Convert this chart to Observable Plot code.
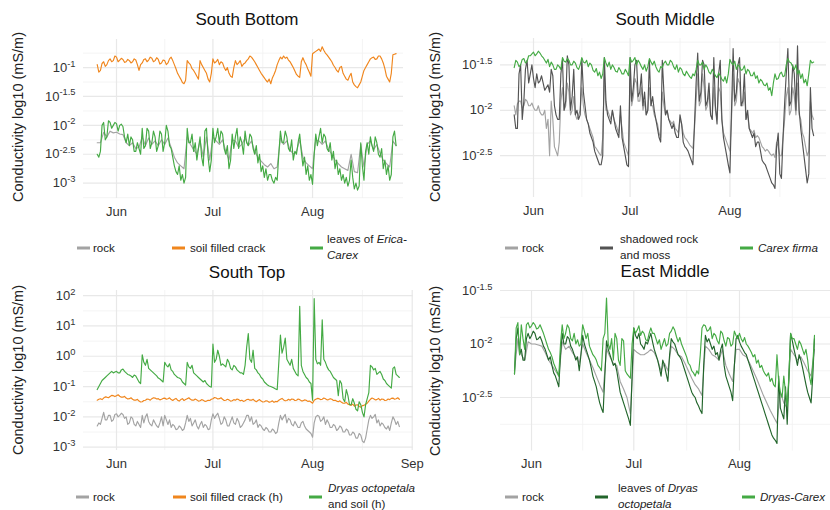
<!DOCTYPE html>
<html><head><meta charset="utf-8">
<script src="https://cdn.jsdelivr.net/npm/d3@7"></script>
<script src="https://cdn.jsdelivr.net/npm/@observablehq/plot@0.6"></script>
<style>
body{margin:0;background:#fff;font-family:"Liberation Sans",Arial,Helvetica,sans-serif;}
#root{position:relative;width:830px;height:510px;overflow:hidden;background:#fff;}
.plotbox{position:absolute;width:415px;height:255px;}
.plotbox svg{overflow:visible;background:transparent;}
.title{position:absolute;font-size:17px;color:#111;transform:translate(-50%,-50%);white-space:nowrap;}
.ylab{position:absolute;font-size:14.5px;color:#222;transform:translate(-50%,-50%) rotate(-90deg);white-space:nowrap;}
.sw{position:absolute;width:13px;height:3px;transform:translateY(-50%);}
.lt{position:absolute;font-size:11.6px;line-height:15.5px;color:#222;transform:translateY(-50%);white-space:nowrap;}
</style></head>
<body><div id="root"></div>
<script>
// ---- data: log10 conductivity (mS/m); day index 0 = 26 May ----
// each series: start day, sampling step (days), values

// South Bottom
const sbRockStart = 0, sbRockStep = 1;
const sbRock = [-2.3,-2.3,-2.12,-2.2,-2.1,-2.13,-2.12,-2.15,-2.16,-2.3,-2.35,-2.3,-2.4,-2.38,-2.2,-2.35,-2.22,-2.33,-2.27,-2.35,-2.25,-2.33,-2.22,-2.38,-2.55,-2.65,-2.7,-2.75,-2.2,-2.33,-2.42,-2.5,-2.27,-2.55,-2.2,-2.6,-2.2,-2.27,-2.33,-2.25,-2.45,-2.6,-2.25,-2.27,-2.38,-2.33,-2.22,-2.35,-2.27,-2.45,-2.55,-2.62,-2.68,-2.72,-2.66,-2.75,-2.72,-2.22,-2.33,-2.27,-2.42,-2.5,-2.45,-2.25,-2.55,-2.65,-2.7,-2.75,-2.25,-2.27,-2.33,-2.27,-2.42,-2.5,-2.6,-2.66,-2.72,-2.75,-2.78,-2.5,-2.8,-2.82,-2.33,-2.72,-2.33,-2.27,-2.42,-2.33,-2.48,-2.6,-2.66,-2.72,-2.27,-2.35];
const sbSoilStart = 0, sbSoilStep = 0.5;
const sbSoil = [-0.95,-1.08,-1.05,-0.93,-0.9,-0.98,-0.95,-0.88,-0.85,-0.9,-0.88,-0.8,-0.82,-0.9,-0.87,-0.84,-0.86,-0.91,-0.9,-0.86,-0.88,-0.92,-0.9,-0.85,-0.87,-0.95,-1.05,-0.95,-0.92,-0.86,-0.85,-0.9,-0.87,-0.82,-0.84,-0.9,-0.88,-0.83,-0.86,-0.94,-0.92,-0.87,-0.88,-0.95,-0.92,-0.85,-0.82,-0.88,-0.95,-1.02,-1.1,-1.15,-1.2,-1.26,-1.28,-1.22,-0.88,-0.92,-0.95,-1.02,-1.05,-1.1,-1.15,-1.2,-0.88,-0.95,-1.0,-1.05,-1.1,-1.2,-1.25,-1.1,-0.85,-0.92,-0.9,-0.86,-0.95,-0.9,-0.92,-1.0,-1.05,-1.0,-1.1,-1.15,-1.17,-1.0,-0.88,-0.95,-0.92,-0.88,-0.98,-0.94,-0.92,-0.88,-0.85,-0.8,-0.82,-0.86,-0.9,-0.95,-1.0,-1.05,-1.1,-1.14,-1.18,-1.22,-1.25,-1.2,-1.28,-1.18,-1.12,-1.05,-0.95,-0.88,-0.82,-0.85,-0.8,-0.84,-0.82,-0.87,-0.9,-0.95,-1.0,-1.06,-1.12,-1.15,-1.17,-0.9,-0.83,-0.9,-0.95,-1.02,-1.08,-1.15,-0.76,-0.74,-0.72,-0.7,-0.68,-0.72,-0.64,-0.7,-0.75,-0.78,-0.82,-0.86,-0.9,-0.96,-1.0,-1.05,-1.08,-1.0,-0.98,-1.1,-1.15,-1.2,-1.22,-1.15,-1.1,-1.25,-1.3,-1.33,-1.35,-1.3,-1.25,-1.15,-1.05,-1.0,-0.95,-0.9,-0.85,-0.83,-0.82,-0.86,-0.85,-0.8,-0.8,-0.85,-0.92,-1.02,-1.15,-1.2,-1.25,-1.1,-0.78,-0.77,-0.76];
const sbLeavesStart = 0, sbLeavesStep = 0.5;
const sbLeaves = [-2.5,-2.55,-2.45,-2.0,-1.95,-2.25,-2.2,-1.92,-1.95,-2.05,-2.0,-1.95,-1.97,-2.1,-2.0,-1.98,-2.02,-2.2,-2.3,-2.15,-2.35,-2.2,-2.25,-2.45,-2.45,-2.3,-2.4,-2.5,-2.05,-2.4,-2.35,-2.05,-2.1,-2.4,-2.3,-2.1,-2.2,-2.45,-2.35,-2.1,-2.15,-2.45,-2.3,-2.0,-2.1,-2.35,-2.4,-2.55,-2.7,-2.8,-2.85,-2.7,-2.95,-2.85,-3.0,-2.9,-2.05,-2.3,-2.3,-2.15,-2.45,-2.3,-2.6,-2.4,-2.2,-2.55,-2.7,-2.1,-2.05,-2.55,-2.8,-2.6,-2.05,-2.3,-2.2,-2.05,-2.3,-2.1,-2.15,-2.4,-2.5,-2.35,-2.75,-2.6,-2.15,-2.4,-2.2,-2.05,-2.4,-2.2,-2.3,-2.5,-2.1,-2.3,-2.35,-2.15,-2.2,-2.4,-2.5,-2.35,-2.65,-2.5,-2.8,-2.7,-2.9,-2.75,-2.95,-2.85,-2.85,-2.95,-3.0,-2.9,-2.95,-2.5,-2.1,-2.3,-2.3,-2.1,-2.2,-2.4,-2.45,-2.25,-2.6,-2.45,-2.5,-2.3,-2.15,-2.45,-2.7,-2.55,-2.85,-2.7,-2.95,-2.85,-3.02,-2.5,-2.15,-2.35,-2.2,-2.05,-2.3,-2.15,-2.2,-2.4,-2.45,-2.3,-2.6,-2.45,-2.75,-2.6,-2.85,-2.75,-2.95,-2.85,-3.0,-2.9,-3.05,-2.95,-2.6,-2.9,-3.1,-3.0,-3.12,-3.05,-2.3,-2.7,-2.95,-2.45,-2.3,-2.5,-2.2,-2.35,-2.45,-2.2,-2.3,-2.5,-2.55,-2.4,-2.75,-2.6,-2.85,-2.7,-2.95,-2.85,-2.2,-2.1,-2.35];

// South Middle
const smRockStart = 0, smRockStep = 0.5;
const smRock = [-1.95,-2.05,-1.93,-1.9,-1.9,-1.98,-1.95,-1.88,-1.9,-1.95,-1.95,-1.92,-1.97,-2.0,-2.0,-1.95,-2.02,-2.05,-2.05,-2.0,-2.2,-2.1,-2.5,-1.9,-2.1,-2.4,-2.45,-2.5,-2.35,-1.9,-1.75,-2.0,-1.95,-1.7,-1.8,-2.05,-2.0,-1.85,-2.05,-2.1,-2.05,-2.0,-1.75,-1.95,-2.05,-2.1,-2.15,-2.2,-2.25,-2.3,-2.4,-2.42,-2.45,-2.48,-2.5,-2.3,-1.6,-2.0,-2.0,-2.05,-2.1,-2.0,-2.1,-2.15,-2.2,-2.25,-2.05,-2.2,-2.35,-2.4,-2.45,-2.5,-1.65,-1.95,-1.85,-1.65,-1.7,-1.9,-1.9,-1.75,-2.0,-1.9,-2.05,-2.0,-1.75,-1.95,-1.95,-2.05,-2.1,-2.15,-2.25,-2.3,-1.8,-1.95,-2.05,-2.0,-2.1,-2.12,-2.15,-2.12,-2.2,-2.22,-2.25,-2.1,-2.15,-2.25,-2.3,-2.32,-2.35,-2.38,-2.4,-2.42,-2.2,-1.9,-1.6,-1.95,-1.9,-1.6,-1.75,-2.0,-1.95,-1.8,-2.05,-2.1,-1.75,-2.0,-2.1,-1.75,-1.8,-2.1,-2.25,-2.3,-2.35,-2.4,-2.45,-2.1,-1.6,-1.95,-1.9,-1.65,-1.7,-1.95,-1.95,-1.8,-2.1,-2.05,-2.2,-2.22,-2.25,-2.22,-2.3,-2.28,-2.3,-2.35,-2.4,-2.42,-2.45,-2.43,-2.45,-2.48,-2.5,-2.48,-2.52,-2.35,-2.4,-2.5,-2.5,-2.3,-2.1,-1.85,-1.75,-2.05,-2.0,-1.75,-1.85,-2.05,-1.7,-2.05,-2.1,-2.25,-2.3,-2.4,-2.5,-2.45,-1.9,-2.05,-2.1];
const smShadowStart = 0, smShadowStep = 0.5;
const smShadow = [-2.05,-2.2,-2.2,-1.6,-1.5,-2.1,-1.9,-1.55,-1.45,-1.7,-1.6,-1.5,-1.65,-1.75,-1.6,-1.7,-1.68,-1.62,-1.7,-1.78,-1.75,-1.72,-1.8,-1.55,-1.62,-1.95,-2.05,-2.1,-2.1,-1.6,-1.45,-2.0,-1.9,-1.4,-1.5,-2.0,-1.85,-1.55,-2.05,-2.0,-2.1,-2.05,-1.43,-1.8,-1.95,-2.1,-2.15,-2.25,-2.3,-2.35,-2.45,-2.5,-2.55,-2.6,-2.6,-2.5,-1.42,-1.9,-2.05,-2.1,-2.15,-2.0,-2.1,-2.2,-2.25,-2.3,-1.95,-2.3,-2.4,-2.5,-2.6,-2.62,-1.42,-1.9,-1.75,-1.5,-1.45,-1.85,-1.8,-1.6,-1.95,-1.8,-2.05,-2.0,-1.45,-1.95,-1.85,-2.0,-2.1,-2.2,-2.3,-2.35,-1.45,-1.8,-2.05,-2.0,-2.1,-2.15,-2.2,-2.15,-2.25,-2.3,-2.3,-2.05,-2.15,-2.35,-2.4,-2.42,-2.45,-2.5,-2.55,-2.6,-2.15,-1.7,-1.37,-1.9,-1.8,-1.45,-1.5,-1.95,-1.9,-1.7,-2.05,-2.1,-1.42,-1.95,-2.15,-1.6,-1.45,-2.1,-2.3,-2.4,-2.5,-2.6,-2.69,-2.0,-1.32,-1.9,-1.8,-1.5,-1.42,-1.95,-1.9,-1.6,-2.1,-2.0,-2.2,-2.25,-2.3,-2.25,-2.4,-2.35,-2.35,-2.45,-2.55,-2.58,-2.6,-2.65,-2.7,-2.75,-2.8,-2.82,-2.86,-2.4,-2.25,-2.7,-2.75,-2.3,-1.92,-1.6,-1.32,-1.95,-1.9,-1.5,-1.6,-2.0,-1.29,-2.0,-2.2,-2.35,-2.5,-2.65,-2.8,-2.7,-1.75,-2.2,-2.28];
const smCarexStart = 0, smCarexStep = 0.5;
const smCarex = [-1.53,-1.45,-1.47,-1.52,-1.5,-1.44,-1.43,-1.48,-1.46,-1.4,-1.4,-1.38,-1.36,-1.4,-1.38,-1.35,-1.37,-1.4,-1.42,-1.45,-1.48,-1.44,-1.52,-1.47,-1.5,-1.55,-1.55,-1.5,-1.52,-1.55,-1.42,-1.46,-1.47,-1.43,-1.45,-1.5,-1.5,-1.46,-1.48,-1.53,-1.55,-1.5,-1.42,-1.47,-1.48,-1.45,-1.52,-1.48,-1.5,-1.56,-1.58,-1.54,-1.62,-1.58,-1.65,-1.6,-1.42,-1.48,-1.52,-1.47,-1.55,-1.5,-1.53,-1.57,-1.58,-1.53,-1.56,-1.6,-1.6,-1.55,-1.58,-1.62,-1.42,-1.47,-1.45,-1.42,-1.5,-1.45,-1.48,-1.52,-1.55,-1.5,-1.57,-1.52,-1.43,-1.47,-1.5,-1.46,-1.52,-1.56,-1.58,-1.52,-1.53,-1.48,-1.46,-1.5,-1.5,-1.45,-1.47,-1.52,-1.55,-1.5,-1.58,-1.53,-1.55,-1.6,-1.62,-1.57,-1.6,-1.63,-1.65,-1.6,-1.62,-1.55,-1.45,-1.5,-1.5,-1.47,-1.55,-1.5,-1.53,-1.58,-1.6,-1.55,-1.58,-1.62,-1.64,-1.59,-1.62,-1.66,-1.68,-1.63,-1.7,-1.6,-1.44,-1.48,-1.5,-1.46,-1.55,-1.5,-1.52,-1.56,-1.55,-1.51,-1.6,-1.55,-1.57,-1.62,-1.62,-1.58,-1.65,-1.62,-1.7,-1.66,-1.68,-1.72,-1.73,-1.7,-1.78,-1.75,-1.84,-1.7,-1.6,-1.66,-1.65,-1.6,-1.58,-1.63,-1.62,-1.5,-1.43,-1.47,-1.48,-1.52,-1.55,-1.5,-1.6,-1.56,-1.65,-1.6,-1.7,-1.66,-1.73,-1.6,-1.45,-1.48,-1.47];

// South Top
const stRockStart = 0, stRockStep = 0.5;
const stRock = [-2.3,-2.2,-2.25,-2.05,-1.85,-2.1,-2.1,-1.95,-1.95,-2.15,-2.1,-1.92,-1.9,-2.0,-1.95,-1.88,-1.92,-2.05,-2.0,-2.25,-2.2,-2.0,-2.05,-2.25,-2.3,-2.15,-2.25,-2.35,-1.95,-2.2,-2.0,-1.9,-2.15,-2.25,-2.3,-2.1,-2.2,-2.3,-2.35,-2.2,-2.0,-2.3,-1.95,-2.1,-2.25,-2.1,-2.35,-2.25,-2.3,-2.42,-2.4,-2.3,-2.35,-2.45,-2.4,-2.2,-1.95,-2.15,-2.05,-2.3,-2.2,-2.1,-2.3,-2.4,-2.25,-2.15,-2.35,-2.25,-2.3,-2.42,-2.4,-2.1,-1.9,-2.05,-1.95,-1.88,-2.05,-2.25,-2.2,-2.0,-2.1,-2.3,-2.3,-2.15,-2.0,-2.2,-2.25,-2.05,-2.15,-2.35,-2.3,-2.2,-2.1,-1.95,-1.95,-2.15,-2.0,-2.25,-2.2,-2.1,-2.35,-2.25,-2.3,-2.4,-2.45,-2.35,-2.4,-2.5,-2.5,-2.4,-2.45,-2.55,-2.5,-2.2,-1.95,-2.1,-2.0,-1.92,-2.2,-2.05,-2.1,-2.25,-2.3,-2.15,-2.25,-2.35,-2.35,-2.2,-2.15,-2.3,-2.4,-2.45,-2.5,-2.55,-2.67,-2.2,-2.0,-1.95,-1.98,-2.15,-2.1,-2.0,-2.25,-2.1,-2.2,-2.35,-2.35,-2.25,-2.3,-2.45,-2.4,-2.3,-2.35,-2.5,-2.5,-2.4,-2.45,-2.6,-2.6,-2.5,-2.55,-2.7,-2.7,-2.55,-2.6,-2.8,-2.85,-2.7,-2.4,-2.1,-1.95,-2.05,-2.0,-1.92,-2.2,-2.1,-2.3,-2.2,-2.25,-2.35,-2.4,-2.3,-2.45,-2.2,-2.0,-2.1,-2.25,-2.15,-2.32];
const stSoilStart = 0, stSoilStep = 0.5;
const stSoil = [-1.45,-1.42,-1.4,-1.43,-1.38,-1.34,-1.35,-1.37,-1.33,-1.29,-1.3,-1.33,-1.3,-1.27,-1.32,-1.35,-1.35,-1.32,-1.38,-1.41,-1.4,-1.37,-1.42,-1.45,-1.45,-1.42,-1.48,-1.51,-1.5,-1.46,-1.45,-1.41,-1.42,-1.45,-1.4,-1.37,-1.38,-1.41,-1.4,-1.44,-1.42,-1.39,-1.38,-1.42,-1.4,-1.37,-1.43,-1.46,-1.42,-1.39,-1.45,-1.48,-1.43,-1.4,-1.46,-1.43,-1.4,-1.37,-1.42,-1.45,-1.45,-1.41,-1.44,-1.48,-1.47,-1.43,-1.45,-1.49,-1.48,-1.45,-1.46,-1.42,-1.4,-1.36,-1.38,-1.41,-1.4,-1.37,-1.42,-1.46,-1.45,-1.42,-1.44,-1.48,-1.47,-1.43,-1.45,-1.41,-1.43,-1.47,-1.45,-1.49,-1.47,-1.43,-1.42,-1.45,-1.45,-1.42,-1.47,-1.5,-1.46,-1.43,-1.48,-1.51,-1.5,-1.47,-1.48,-1.52,-1.5,-1.47,-1.52,-1.49,-1.5,-1.45,-1.42,-1.39,-1.44,-1.47,-1.46,-1.42,-1.45,-1.41,-1.42,-1.46,-1.45,-1.41,-1.43,-1.47,-1.47,-1.44,-1.45,-1.49,-1.48,-1.51,-1.55,-1.45,-1.42,-1.39,-1.4,-1.43,-1.42,-1.38,-1.4,-1.44,-1.43,-1.4,-1.42,-1.46,-1.45,-1.48,-1.5,-1.47,-1.52,-1.55,-1.55,-1.52,-1.58,-1.6,-1.62,-1.58,-1.65,-1.61,-1.6,-1.66,-1.68,-1.63,-1.62,-1.58,-1.55,-1.48,-1.42,-1.38,-1.4,-1.44,-1.43,-1.39,-1.45,-1.41,-1.42,-1.46,-1.45,-1.41,-1.43,-1.39,-1.38,-1.42,-1.4,-1.37,-1.42];
const stDryasStart = 0, stDryasStep = 0.5;
const stDryas = [-1.1,-1.0,-0.9,-0.8,-0.75,-0.7,-0.65,-0.6,-0.55,-0.5,-0.55,-0.52,-0.5,-0.55,-0.55,-0.45,-0.42,-0.5,-0.55,-0.6,-0.62,-0.65,-0.7,-0.62,-0.65,-0.75,-0.85,-0.9,0.05,-0.2,-0.3,-0.1,-0.4,-0.45,-0.5,-0.55,-0.6,-0.65,-0.72,-0.75,-0.8,-0.85,-0.2,-0.3,-0.35,-0.25,-0.45,-0.5,-0.6,-0.65,-0.7,-0.72,-0.75,-0.85,-0.9,-0.95,-0.2,-0.35,-0.4,-0.3,-0.55,-0.6,-0.65,-0.7,-0.75,-0.8,-0.85,-0.8,-0.9,-0.95,-1.0,-1.02,0.4,-0.2,-0.1,0.2,0.0,-0.3,-0.25,-0.3,-0.35,-0.1,-0.2,-0.4,-0.45,-0.3,-0.35,-0.45,-0.5,-0.55,-0.55,-0.6,-0.3,0.3,0.75,-0.1,-0.2,0.2,-0.4,-0.45,-0.55,-0.6,-0.7,-0.75,-0.85,-0.9,-0.95,-0.98,-1.0,-1.02,-1.05,-1.08,-1.1,-0.2,0.7,0.1,0.3,0.6,-0.1,-0.2,-0.3,-0.1,-0.4,-0.5,-0.6,-0.65,1.65,-0.3,-0.5,-0.6,-0.7,-0.75,-0.85,-0.9,-1.45,1.9,-0.1,-0.25,-0.2,-0.3,1.2,-0.1,-0.2,-0.35,-0.45,-0.5,-0.6,-0.7,-0.75,-0.8,-1.3,-0.8,-0.9,-1.4,-1.5,-1.1,-1.3,-1.6,-1.6,-1.4,-1.55,-1.75,-1.8,-1.5,-1.6,-1.85,-2.0,-1.6,-1.4,-1.2,-0.3,-0.35,-0.45,-0.4,-0.6,-0.55,-0.5,-0.6,-0.75,-0.8,-0.9,-0.95,-1.0,-1.05,-0.4,-0.35,-0.6,-0.65,-0.7];

// East Middle
const emRockStart = 1, emRockStep = 1;
const emRock = [-2.25,-1.95,-2.1,-2.15,-1.98,-2.0,-2.0,-2.01,-2.02,-2.08,-2.15,-2.2,-2.25,-2.3,-1.98,-2.05,-2.02,-2.08,-2.12,-2.18,-2.0,-2.08,-2.15,-2.22,-2.3,-2.38,-2.45,-2.05,-2.12,-2.18,-2.2,-2.35,-2.42,-2.5,-2.65,-2.05,-2.08,-2.1,-2.1,-2.08,-2.05,-2.08,-2.15,-2.25,-2.18,-2.25,-2.02,-2.05,-2.1,-2.12,-2.18,-2.25,-2.32,-2.38,-2.42,-2.48,-2.02,-2.05,-2.1,-2.12,-2.15,-2.05,-2.2,-2.28,-2.35,-2.05,-2.05,-2.1,-2.12,-2.18,-2.25,-2.32,-2.4,-2.48,-2.55,-2.62,-2.68,-2.74,-2.45,-2.55,-2.6,-2.05,-2.1,-2.15,-2.12,-2.18,-2.25,-2.3,-2.05];
const emLeavesStart = 1, emLeavesStep = 0.5;
const emLeaves = [-2.28,-1.95,-1.85,-2.1,-2.05,-2.15,-2.15,-1.95,-1.9,-1.95,-1.92,-1.88,-1.9,-1.96,-1.95,-1.93,-1.97,-2.02,-2.05,-2.1,-2.15,-2.12,-2.2,-2.27,-2.3,-2.35,-2.4,-2.1,-1.9,-2.0,-2.0,-1.93,-1.95,-2.02,-2.05,-2.1,-2.15,-2.12,-2.25,-2.1,-1.92,-2.0,-2.05,-2.1,-2.15,-2.22,-2.3,-2.35,-2.4,-2.48,-2.55,-2.6,-2.64,-2.3,-1.97,-2.05,-2.1,-2.15,-2.2,-2.18,-2.25,-2.35,-2.45,-2.5,-2.55,-2.6,-2.65,-2.7,-2.76,-2.3,-1.85,-1.92,-1.95,-1.9,-2.0,-2.02,-2.05,-1.98,-2.0,-1.95,-1.9,-1.98,-2.05,-2.1,-2.15,-2.22,-2.3,-2.15,-2.2,-2.28,-2.35,-2.1,-1.95,-1.98,-2.0,-2.05,-2.1,-2.12,-2.15,-2.2,-2.25,-2.3,-2.35,-2.4,-2.45,-2.48,-2.5,-2.55,-2.58,-2.62,-2.65,-2.2,-1.92,-1.98,-1.95,-2.0,-2.05,-2.02,-2.1,-2.08,-2.15,-2.05,-2.0,-2.2,-2.3,-2.35,-2.4,-2.45,-2.53,-2.2,-1.95,-1.92,-1.98,-2.02,-2.05,-2.08,-2.1,-2.15,-2.2,-2.25,-2.3,-2.35,-2.4,-2.45,-2.5,-2.55,-2.6,-2.65,-2.7,-2.75,-2.8,-2.85,-2.88,-2.9,-2.93,-2.3,-2.6,-2.65,-2.7,-2.4,-2.75,-2.3,-1.9,-1.97,-2.05,-2.12,-2.2,-2.1,-2.15,-2.22,-2.3,-2.38,-2.45,-2.5,-2.55,-2.3,-1.95];
const emCarexStart = 1, emCarexStep = 0.5;
const emCarex = [-2.28,-1.85,-1.8,-2.1,-1.82,-1.95,-2.05,-1.82,-1.8,-1.85,-1.83,-1.8,-1.82,-1.86,-1.85,-1.82,-1.86,-1.9,-1.95,-2.0,-2.05,-2.08,-2.12,-2.18,-2.22,-2.26,-2.3,-2.0,-1.82,-1.95,-1.9,-1.82,-1.85,-1.95,-1.97,-1.9,-2.0,-1.96,-2.02,-2.0,-1.82,-1.88,-1.95,-1.9,-2.02,-2.06,-2.1,-2.12,-2.15,-2.2,-2.22,-2.25,-1.95,-1.9,-1.57,-2.0,-2.05,-1.95,-2.15,-1.9,-1.95,-2.15,-2.2,-1.95,-1.97,-2.25,-2.28,-2.3,-2.32,-2.0,-1.85,-1.9,-1.87,-1.83,-1.92,-1.88,-1.9,-1.96,-1.97,-1.9,-1.85,-1.9,-1.9,-1.95,-2.0,-1.96,-2.05,-2.0,-1.95,-2.02,-2.0,-1.9,-1.88,-1.84,-1.87,-1.93,-1.98,-1.94,-2.0,-2.04,-2.08,-2.12,-2.18,-2.2,-2.25,-2.27,-2.3,-2.25,-2.28,-2.1,-1.85,-1.82,-1.83,-1.88,-1.87,-1.84,-1.95,-1.9,-1.92,-1.97,-2.0,-1.88,-1.9,-1.97,-2.02,-1.94,-1.95,-2.02,-2.0,-1.88,-1.92,-1.95,-1.9,-1.95,-1.98,-1.94,-2.0,-2.02,-2.05,-2.08,-2.12,-2.1,-2.18,-2.15,-2.22,-2.2,-2.25,-2.28,-2.3,-2.27,-2.35,-2.32,-2.38,-2.4,-2.1,-2.35,-2.45,-2.5,-2.3,-2.45,-2.58,-2.3,-1.9,-1.95,-1.95,-2.0,-2.05,-1.97,-2.0,-2.05,-2.1,-2.05,-2.15,-2.3,-2.38,-2.2,-1.92];

// tick values
const months3 = ["2018-06-01","2018-07-01","2018-08-01"];
const months4 = ["2018-06-01","2018-07-01","2018-08-01","2018-09-01"];
const minorDays = [21, 51.5, 82.5];

// ---- rendering ----
const BASE = Date.UTC(2018, 4, 26), DAY = 86400000;
const at = d => new Date(BASE + d * DAY);
const rows = (vals, start, step) => vals.map((v, i) => ({date: at(start + i * step), v}));

const C = {gray:"#A3A3A3", dgray:"#535353", orange:"#F0861D", green:"#44AA44", dgreen:"#22652B"};

const panels = [
  {left:0, top:0, ml:83, mr:12, mt:39, mb:57, xd:[-4.27,95.3], yd:[-3.265,-0.515],
   major:[-1,-1.5,-2,-2.5,-3], minor:[-0.75,-1.25,-1.75,-2.25,-2.75,-3.25], months:months3,
   lines:[[sbRock,sbRockStart,sbRockStep,C.gray],[sbSoil,sbSoilStart,sbSoilStep,C.orange],[sbLeaves,sbLeavesStart,sbLeavesStep,C.green]]},
  {left:415, top:0, ml:85, mr:4, mt:38, mb:58, xd:[-4.25,97.0], yd:[-2.96,-1.21],
   major:[-1.5,-2,-2.5], minor:[-1.25,-1.75,-2.25,-2.75], months:months3,
   lines:[[smRock,smRockStart,smRockStep,C.gray],[smShadow,smShadowStart,smShadowStep,C.dgray],[smCarex,smCarexStart,smCarexStep,C.green]]},
  {left:0, top:255, ml:83, mr:2, mt:35, mb:60, xd:[-4.27,98.4], yd:[-3.11,2.17],
   major:[2,1,0,-1,-2,-3], minor:[1.5,0.5,-0.5,-1.5,-2.5], months:months4,
   lines:[[stRock,stRockStart,stRockStep,C.gray],[stSoil,stSoilStart,stSoilStep,C.orange],[stDryas,stDryasStart,stDryasStep,C.green]]},
  {left:415, top:255, ml:85, mr:0, mt:35, mb:59.5, xd:[-3.1,93.7], yd:[-3.0,-1.5],
   major:[-1.5,-2,-2.5], minor:[-1.75,-2.25,-2.75], months:months3,
   lines:[[emRock,emRockStart,emRockStep,C.gray],[emLeaves,emLeavesStart,emLeavesStep,C.dgreen],[emCarex,emCarexStart,emCarexStep,C.green]]}
];

const root = document.getElementById("root");
const NS = "http://www.w3.org/2000/svg";

panels.forEach(p => {
  const monthDates = p.months.map(s => new Date(s + "T00:00:00Z"));
  const marks = [
    Plot.ruleY(p.minor, {stroke:"#F1F1F1", strokeWidth:0.8}),
    Plot.ruleX(minorDays.map(at), {stroke:"#F1F1F1", strokeWidth:0.8}),
    Plot.ruleY(p.major, {stroke:"#E8E8E8", strokeWidth:1.2}),
    Plot.ruleX(monthDates, {stroke:"#E8E8E8", strokeWidth:1.2}),
    Plot.axisX({ticks: monthDates, tickFormat: d3.utcFormat("%b"), tickSize:0, tickPadding:8, label:null, fill:"#333"}),
    Plot.axisY({ticks: p.major, tickFormat: v => String(v), tickSize:0, tickPadding:8, label:null, fill:"#333"}),
    ...p.lines.map(([vals, start, step, col]) => Plot.line(rows(vals, start, step), {x:"date", y:"v", stroke:col, strokeWidth:1.15, strokeLinejoin:"round"}))
  ];
  const chart = Plot.plot({
    width:415, height:255,
    marginLeft:p.ml, marginRight:p.mr, marginTop:p.mt, marginBottom:p.mb,
    x:{type:"utc", domain:[at(p.xd[0]), at(p.xd[1])]},
    y:{domain:p.yd},
    style:{fontFamily:'"Liberation Sans",Arial,sans-serif', fontSize:"13px", background:"transparent", overflow:"visible"},
    marks
  });
  chart.querySelectorAll('g[aria-label="y-axis tick label"] text').forEach(t => {
    const e = t.textContent;
    t.textContent = "";
    const a = document.createElementNS(NS, "tspan"); a.textContent = "10";
    const b = document.createElementNS(NS, "tspan"); b.textContent = e;
    b.setAttribute("dy", "-0.55em"); b.setAttribute("font-size", "0.72em");
    t.append(a, b);
  });
  const box = document.createElement("div");
  box.className = "plotbox";
  box.style.left = p.left + "px"; box.style.top = p.top + "px";
  box.appendChild(chart);
  root.appendChild(box);
});

function addText(cls, html, x, y) {
  const d = document.createElement("div");
  d.className = cls; d.innerHTML = html;
  d.style.left = x + "px"; d.style.top = y + "px";
  root.appendChild(d);
}
function addSwatch(color, x, y) {
  const d = document.createElement("div");
  d.className = "sw"; d.style.background = color;
  d.style.left = x + "px"; d.style.top = y + "px";
  root.appendChild(d);
}
addText("title", "South Bottom", 247, 20);
addText("title", "South Middle", 665, 20);
addText("title", "South Top", 247, 273);
addText("title", "East Middle", 665, 272);
const yTitle = "Conductivity log10 (mS/m)";
addText("ylab", yTitle, 18, 117);
addText("ylab", yTitle, 435, 117);
addText("ylab", yTitle, 18, 370);
addText("ylab", yTitle, 435, 371);

const legends = [
  {y:248, items:[[77,93,C.gray,"rock"],[172,190,C.orange,"soil filled crack"],[310,327,C.green,"leaves of <i>Erica-</i><br><i>Carex</i>"]]},
  {y:248, items:[[505,522,C.gray,"rock"],[600,620,C.dgray,"shadowed rock<br>and moss"],[740,758,C.green,"<i>Carex firma</i>"]]},
  {y:497, items:[[76,93,C.gray,"rock"],[173,190,C.orange,"soil filled crack (h)"],[309,328,C.green,"<i>Dryas octopetala</i><br>and soil (h)"]]},
  {y:497, items:[[505,522,C.gray,"rock"],[595,618,C.dgreen,"leaves of <i>Dryas</i><br><i>octopetala</i>"],[742,760,C.green,"<i>Dryas-Carex</i>"]]}
];
legends.forEach(l => l.items.forEach(([sx, tx, col, label]) => {
  addSwatch(col, sx, l.y);
  addText("lt", label, tx, l.y - (label.includes("<br>") ? 2 : 0));
}));
</script>
</body></html>
